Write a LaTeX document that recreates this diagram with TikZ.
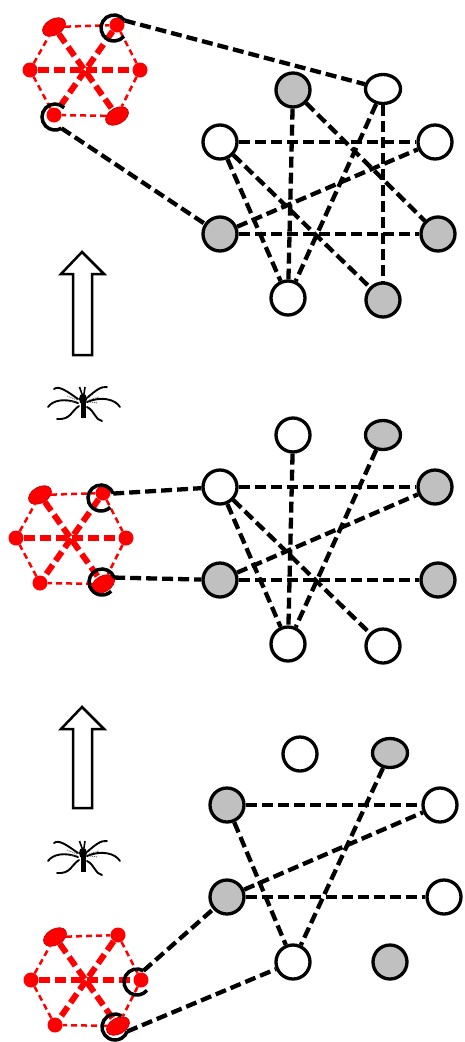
\documentclass[tikz,border=0pt]{standalone}
\usetikzlibrary{shapes.geometric}
\definecolor{nodegray}{RGB}{192,192,192}
\definecolor{hexred}{RGB}{255,0,0}
\definecolor{darkred}{RGB}{185,0,0}

% Red hexagon of six receptor sites: #1 name prefix, (#2,#3) centre
\newcommand\hexring[3]{%
  \node[oval] (#1tl) at (#2-31,#3-43) {};
  \node[dot]  (#1tr) at (#2+32,#3-45) {};
  \node[dot]  (#1l)  at (#2-55,#3) {};
  \node[dot]  (#1r)  at (#2+55,#3) {};
  \node[dot]  (#1bl) at (#2-31,#3+45) {};
  \node[oval] (#1br) at (#2+32,#3+46) {};
  \draw[rim] (#1tl) -- (#1tr) -- (#1r) -- (#1br) -- (#1bl) -- (#1l) -- (#1tl);
  \draw[spoke] (#1l) -- (#1r);
  \draw[spoke] (#1tl) -- (#1br);
  \draw[spoke] (#1tr) -- (#1bl);
}

\begin{document}
\begin{tikzpicture}[x=1pt,y=-1pt,
  wn/.style={circle,draw=black,line width=3.3pt,fill=white,minimum size=34pt,inner sep=0pt},
  gn/.style={wn,fill=nodegray},
  we/.style={ellipse,draw=black,line width=3.3pt,fill=white,minimum width=35pt,minimum height=29pt,inner sep=0pt},
  ge/.style={we,fill=nodegray},
  edge/.style={line width=4.3pt,dash pattern=on 11pt off 5pt},
  dot/.style={circle,fill=hexred,inner sep=0pt,minimum size=15pt},
  oval/.style={ellipse,fill=hexred,draw=darkred,line width=0.6pt,inner sep=0pt,minimum width=25pt,minimum height=16pt,rotate=30},
  rim/.style={draw=hexred,line width=2.5pt,dash pattern=on 6pt off 4pt},
  spoke/.style={draw=hexred,line width=6pt,dash pattern=on 11pt off 5pt},
  hook/.style={draw=black,line width=3.5pt},
  uparrow/.style={draw=black,line width=2.5pt,fill=white,line join=miter},
  mosquito/.pic={
    \draw[line width=1.9pt,line cap=round]
      (-5,-3) .. controls (-15,-10) and (-24,-17) .. (-29,-13)
      (-5,1) .. controls (-18,-4) and (-30,-2) .. (-35,5)
      (-4,4) .. controls (-12,9) and (-12,18) .. (-26,17)
      (4,-4) .. controls (12,-11) and (18,-16) .. (24,-15)
      (4,0) .. controls (18,-6) and (32,-3) .. (37,5)
      (4,5) .. controls (12,9) and (12,18) .. (19,19);
    \draw[line width=1.6pt] (-1,-8) -- (-3.5,-15) (1,-8) -- (2,-15);
    \draw[black!70,line width=0.8pt,dash pattern=on 1pt off 1pt]
      (-6,-2) -- (-16,-6) (-7,0) -- (-15,-1) (6,-2) -- (16,-5) (7,0) -- (15,1);
    \draw[line width=5pt] (0,-6) -- (0,16);
    \fill (0,-3) ellipse[x radius=4pt,y radius=5.5pt];
  }
]
\useasboundingbox (0,0) rectangle (464,1042);

% ---------- top panel ----------
\hexring{p}{85}{70}
\node[gn] (a1) at (293,90) {};
\node[we] (a2) at (383,89) {};
\node[wn] (a3) at (220,142) {};
\node[wn] (a4) at (435,142) {};
\node[gn] (a5) at (220,234) {};
\node[gn] (a6) at (438,234) {};
\node[wn] (a7) at (288,298) {};
\node[gn] (a8) at (383,300) {};
\draw[edge] (a1) -- (a7);
\draw[edge] (a1) -- (a6);
\draw[edge] (a2) -- (a8);
\draw[edge] (a2) -- (a7);
\draw[edge] (a3) -- (a4);
\draw[edge] (a3) -- (a7);
\draw[edge] (a3) -- (a8);
\draw[edge] (a5) -- (a4);
\draw[edge] (a5) -- (a6);
\draw[hook] (114,28) ++(35:13pt) coordinate (h1) arc[start angle=35,end angle=320,radius=13pt];
\draw[hook] (55,117) ++(45:13pt) arc[start angle=45,end angle=300,radius=13pt] coordinate (h2);
\draw[edge] (h1) -- (a2);
\draw[edge] (h2) -- (a5);

% ---------- middle panel ----------
\hexring{q}{71}{538}
\node[wn] (b1) at (293,435) {};
\node[ge] (b2) at (383,435) {};
\node[wn] (b3) at (220,487) {};
\node[gn] (b4) at (435,487) {};
\node[gn] (b5) at (220,580) {};
\node[gn] (b6) at (438,580) {};
\node[wn] (b7) at (288,644) {};
\node[wn] (b8) at (383,646) {};
\draw[edge] (b1) -- (b7);
\draw[edge] (b2) -- (b7);
\draw[edge] (b3) -- (b4);
\draw[edge] (b3) -- (b7);
\draw[edge] (b3) -- (b8);
\draw[edge] (b5) -- (b4);
\draw[edge] (b5) -- (b6);
\draw[hook] (101,498) ++(20:13pt) coordinate (h3) arc[start angle=20,end angle=315,radius=13pt];
\draw[hook] (102,582) ++(20:13pt) coordinate (h4) arc[start angle=20,end angle=315,radius=13pt];
\draw[edge] (h3) -- (b3);
\draw[edge] (h4) -- (b5);

% ---------- bottom panel ----------
\hexring{r}{86}{980}
\node[wn] (c1) at (300,754) {};
\node[ge] (c2) at (390,753) {};
\node[gn] (c3) at (227,805) {};
\node[wn] (c4) at (440,805) {};
\node[gn] (c5) at (227,897) {};
\node[wn] (c6) at (444,897) {};
\node[wn] (c7) at (293,962) {};
\node[gn] (c8) at (390,962) {};
\draw[edge] (c3) -- (c4);
\draw[edge] (c3) -- (c7);
\draw[edge] (c2) -- (c7);
\draw[edge] (c5) -- (c4);
\draw[edge] (c5) -- (c6);
\draw[hook] (137,982) ++(60:13pt) coordinate (h5) arc[start angle=60,end angle=320,radius=13pt];
\draw[hook] (115,1027) ++(60:13pt) arc[start angle=60,end angle=340,radius=13pt] coordinate (h6);
\draw[edge] (h5) -- (c5);
\draw[edge] (h6) -- (c7);

% ---------- hollow arrows and mosquitoes ----------
\draw[uparrow] (82,252) -- (104,274) -- (92,274) -- (92,355) -- (73,355) -- (73,274) -- (61,274) -- cycle;
\draw[uparrow] (82,707) -- (104,729) -- (92,729) -- (92,808) -- (73,808) -- (73,729) -- (61,729) -- cycle;
\pic at (83,402) {mosquito};
\pic at (83,856) {mosquito};
\end{tikzpicture}
\end{document}
